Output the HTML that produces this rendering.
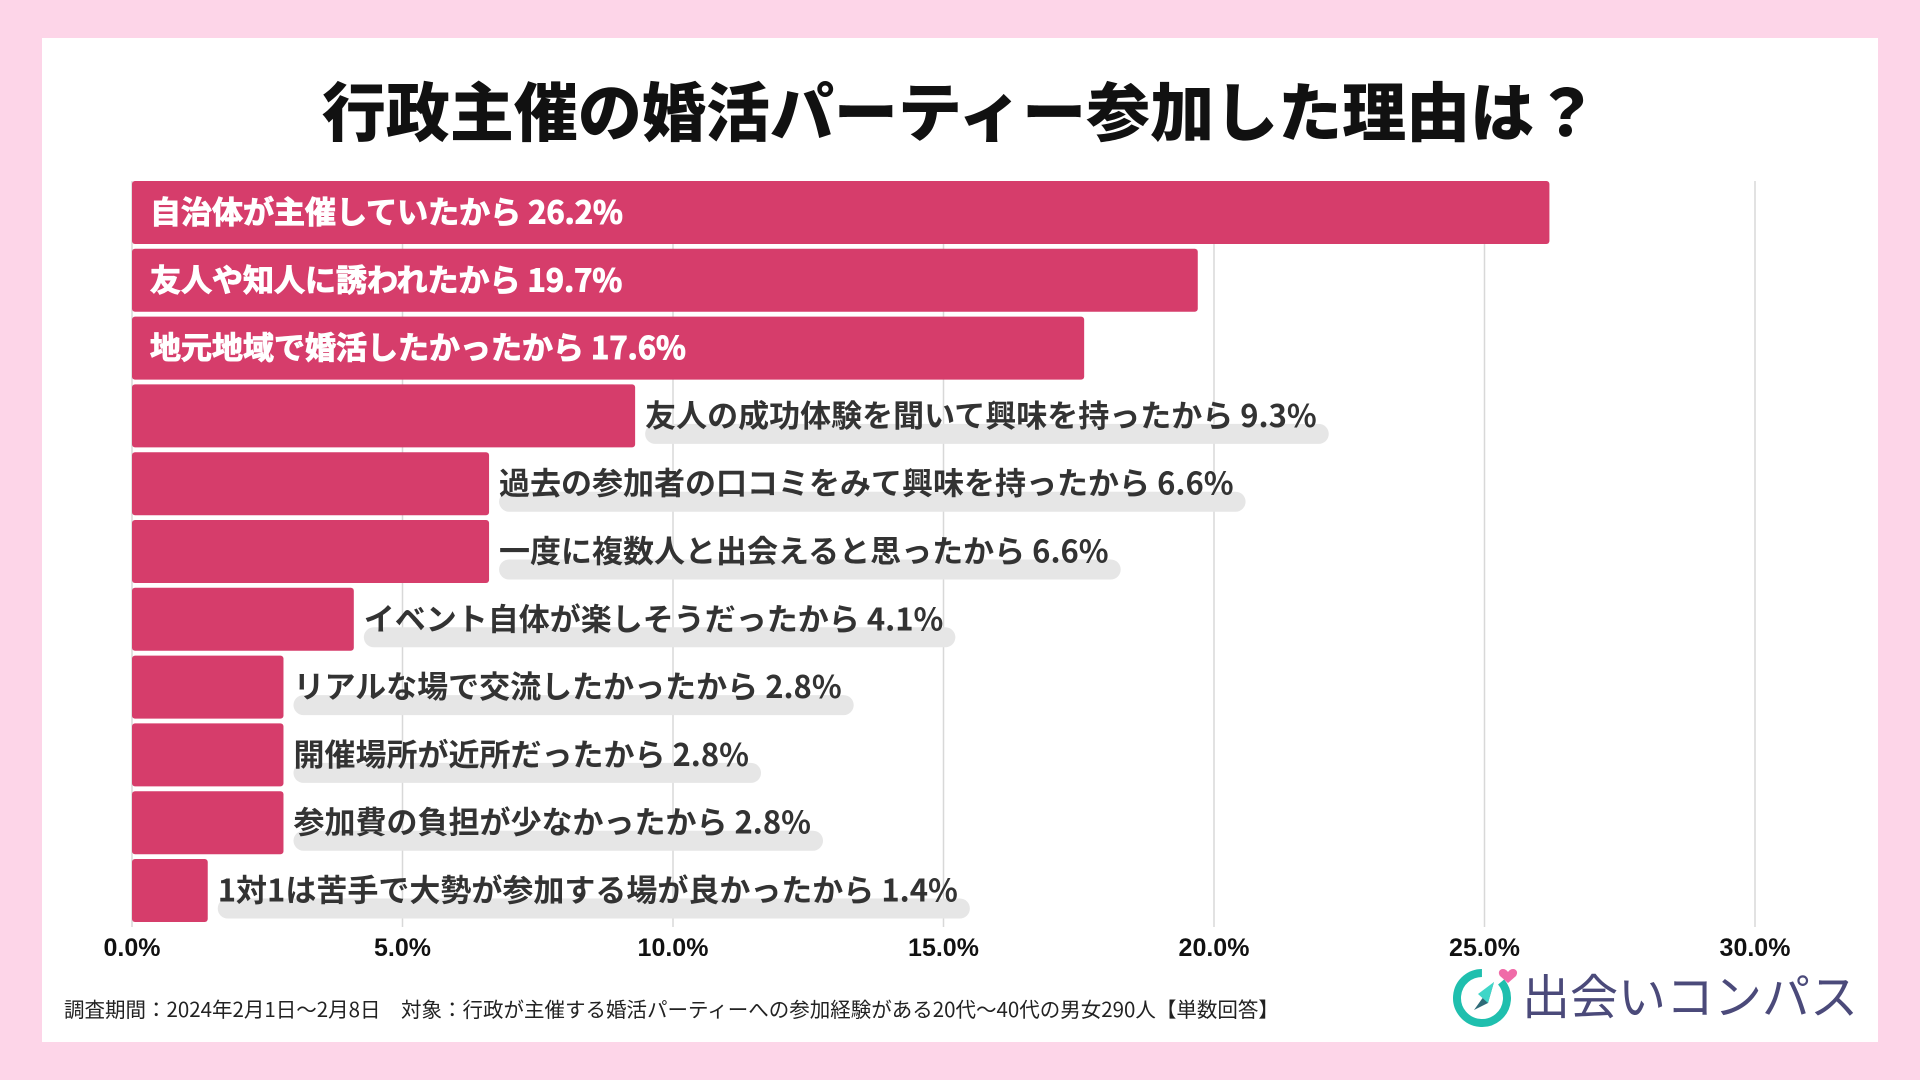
<!DOCTYPE html>
<html><head><meta charset="utf-8"><style>
html,body{margin:0;padding:0;}
body{width:1920px;height:1080px;background:#fdd5e8;position:relative;overflow:hidden;font-family:"Liberation Sans","Noto Sans CJK JP",sans-serif;}
#panel{position:absolute;left:42px;top:38px;width:1836px;height:1004px;background:#fff;}
svg{position:absolute;left:0;top:0;}
</style></head><body>
<div id="panel"></div>
<svg id="chart" width="1920" height="1080">
<text x="960" y="136" text-anchor="middle" font-size="64" font-weight="900" fill="#111" font-family="'Noto Sans CJK JP',sans-serif">行政主催の婚活パーティー参加した理由は？</text>
<g id="grid"></g><g id="bars"></g><g id="ticks"></g>
<text x="64" y="1017" font-size="20.5" fill="#222" font-family="'Noto Sans CJK JP',sans-serif">調査期間：2024年2月1日～2月8日　対象：行政が主催する婚活パーティーへの参加経験がある20代～40代の男女290人【単数回答】</text>
<g>
<circle cx="1482" cy="998" r="25" fill="none" stroke="#1fbfae" stroke-width="8" stroke-dasharray="135 22" transform="rotate(-40 1482 998)"/>
<polygon points="1494,982 1474,1010 1488,1003" fill="#2f6b78"/>
<polygon points="1494,982 1488,1003 1478,994" fill="#3fd6c8"/>
<path d="M1508 972 c-4-6-12-2-8 4 l8 7 l8-7 c4-6-4-10-8-4z" fill="#f06ba8"/>
<text x="1522" y="1014" font-size="48" fill="#4b4a7a" font-family="'Noto Sans CJK JP',sans-serif">出会いコンパス</text>
</g>
</svg>
<script>
const categories=["自治体が主催していたから","友人や知人に誘われたから","地元地域で婚活したかったから","友人の成功体験を聞いて興味を持ったから","過去の参加者の口コミをみて興味を持ったから","一度に複数人と出会えると思ったから ","イベント自体が楽しそうだったから","リアルな場で交流したかったから","開催場所が近所だったから","参加費の負担が少なかったから","1対1は苦手で大勢が参加する場が良かったから"];
const values=[26.2,19.7,17.6,9.3,6.6,6.6,4.1,2.8,2.8,2.8,1.4];
const ticks=[0,5,10,15,20,25,30];
const NS="http://www.w3.org/2000/svg";
const x0=132,pxPer=(1755-132)/30,top0=181,pitch=67.8,bh=63;
const xs=v=>x0+v*pxPer;
function mk(tag,attrs,parent){const e=document.createElementNS(NS,tag);for(const k in attrs)e.setAttribute(k,attrs[k]);parent.appendChild(e);return e;}
const grid=document.getElementById('grid'),bars=document.getElementById('bars'),tk=document.getElementById('ticks');
ticks.forEach(t=>{
 const l=mk('line',{x1:xs(t),x2:xs(t),y1:181,y2:927,stroke:'#d8d8d8','stroke-width':1.5},grid);
 
 
 const tx=mk('text',{x:xs(t),y:956,'text-anchor':'middle','font-size':25,'font-weight':'bold',fill:'#111'},tk);
 tx.textContent=t.toFixed(1)+'%';
 
 
});
values.forEach((v,i)=>{
 const y=top0+i*pitch;
 const r=mk('rect',{x:x0,y:y,width:xs(v)-x0,height:bh,rx:3,fill:'#d63d6b'},bars);
 
 
 const label=categories[i]+'  '+v.toFixed(1)+'%';
 const inside=v>15;
 if(inside){
  const t=mk('text',{x:150,y:y+bh/2+11,'font-size':31,'font-weight':'bold',fill:'#fff',stroke:'#fff','stroke-width':1,'font-family':"'Noto Sans CJK JP',sans-serif",'xml:space':'preserve'},bars);
  t.textContent=label;
  
  
 }else{
  const lx=xs(v)+10;
  const bg=mk('rect',{x:lx,y:y+bh/2+8,width:10,height:20,rx:10,fill:'#e6e6e6'},bars);
  
  
  const t=mk('text',{x:lx,y:y+bh/2+11,'font-size':31,'font-weight':'bold',fill:'#333','font-family':"'Noto Sans CJK JP',sans-serif"},bars);
  t.textContent=label;
  
  
  const w=t.getComputedTextLength();
  bg.setAttribute('width',w+12);
 }
});
</script>
</body></html>
